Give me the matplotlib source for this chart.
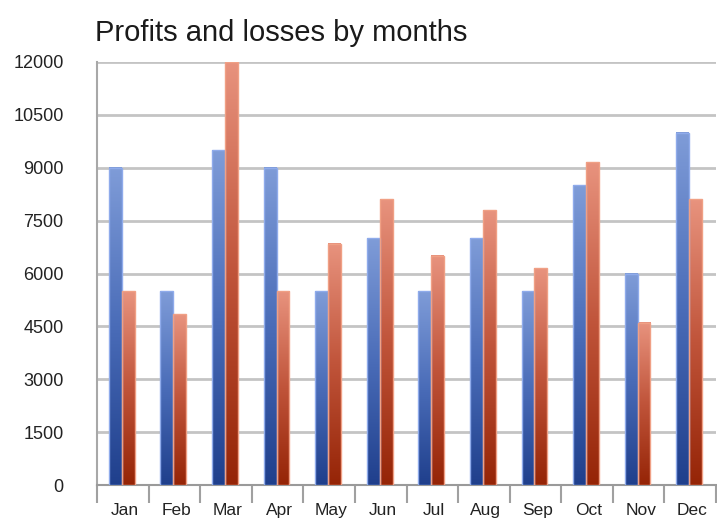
import numpy as np
import matplotlib.pyplot as plt
from matplotlib.colors import LinearSegmentedColormap

months = ['Jan', 'Feb', 'Mar', 'Apr', 'May', 'Jun', 'Jul', 'Aug', 'Sep', 'Oct', 'Nov', 'Dec']
profits = [9000, 5500, 9500, 9000, 5500, 7000, 5500, 7000, 5500, 8500, 6000, 10000]
losses = [5500, 4850, 12000, 5500, 6850, 8100, 6500, 7800, 6150, 9150, 4600, 8100]
yticks = [0, 1500, 3000, 4500, 6000, 7500, 9000, 10500, 12000]

plt.rcParams['font.family'] = ['Liberation Sans', 'DejaVu Sans']

fig = plt.figure(figsize=(7.17, 5.21), dpi=100)
ax = fig.add_axes([0.1353, 0.069, 0.8633, 0.812])

x = np.arange(len(months))
w = 0.25

blue_cmap = LinearSegmentedColormap.from_list('b', ['#1f3f8c', '#4a6cb8', '#7f9cd8'])
red_cmap = LinearSegmentedColormap.from_list('r', ['#952406', '#c0543a', '#e8937e'])
grad = np.linspace(0, 1, 256).reshape(-1, 1)

def gradient_bars(bars, cmap, edge):
    for b in bars:
        x0, y0 = b.get_x(), b.get_y()
        x1, y1 = x0 + b.get_width(), y0 + b.get_height()
        ax.imshow(grad, cmap=cmap, origin='lower', aspect='auto',
                  extent=(x0, x1, y0, y1), zorder=3)
        b.set_facecolor('none')
        b.set_edgecolor(edge)
        b.set_linewidth(1.0)
        b.set_zorder(4)

b1 = ax.bar(x - w / 2 - 0.02, profits, w)
b2 = ax.bar(x + w / 2 - 0.02, losses, w)
gradient_bars(b1, blue_cmap, '#8fabeb')
gradient_bars(b2, red_cmap, '#f0a085')

ax.set_xlim(-0.5, len(months) - 0.5)
ax.set_ylim(0, 12000)
ax.set_yticks(yticks)
ax.set_yticklabels([str(v) for v in yticks], fontsize=13, color='#222222')
ax.yaxis.grid(True, color='#c4c4c4', linewidth=2)
ax.set_axisbelow(True)

# month labels in the middle, tick marks on the boundaries
ax.set_xticks(x + 0.04)
ax.set_xticklabels(months, fontsize=12.5, color='#222222')
ax.tick_params(axis='x', length=0, pad=13)
ax.set_xticks(np.arange(len(months) + 1) - 0.5, minor=True)
ax.tick_params(axis='x', which='minor', length=13, width=1.5, color='#a0a0a0')
ax.tick_params(axis='y', length=0, pad=24)

for s in ['top', 'right']:
    ax.spines[s].set_visible(False)
ax.spines['left'].set_color('#a8a8a8')
ax.spines['left'].set_linewidth(1.5)
ax.spines['bottom'].set_color('#9a9a9a')
ax.spines['bottom'].set_linewidth(1.5)

fig.text(0.132, 0.937, 'Profits and losses by months', fontsize=21, color='#1a1a1a', ha='left', va='center')

fig.savefig('out.png', dpi=100)
